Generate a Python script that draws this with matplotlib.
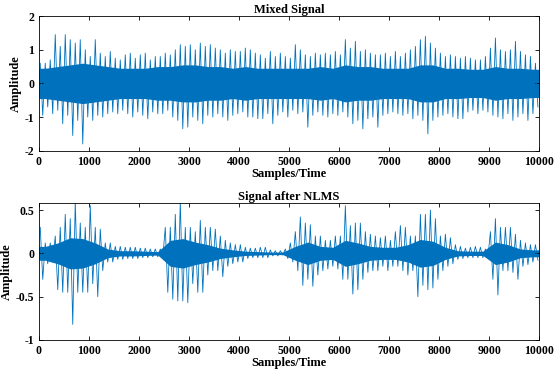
import numpy as np
import matplotlib.pyplot as plt

# peak values read per block of 100 samples (0..10000)
mixed_hi = [0.6, 0.6, 0.7, 1.45, 1.1, 1.45, 1.3, 1.2, 1.3, 1.0,
            0.8, 1.3, 0.9, 0.8, 0.95, 0.75, 0.7, 0.85, 0.9, 0.75,
            0.85, 0.9, 0.7, 0.8, 0.8, 0.9, 0.85, 1.0, 1.15, 1.1,
            1.15, 1.0, 1.2, 1.1, 1.15, 1.05, 1.0, 0.9, 1.0, 0.95,
            0.95, 1.05, 1.0, 0.9, 0.85, 0.75, 0.95, 0.8, 0.9, 0.8,
            0.75, 1.15, 1.0, 0.85, 0.8, 0.9, 0.85, 0.9, 0.85, 0.95,
            0.85, 1.3, 1.05, 1.25, 0.95, 1.0, 0.9, 0.85, 0.85, 0.9,
            0.8, 0.95, 0.8, 0.9, 1.0, 1.1, 1.3, 1.4, 1.2, 1.05,
            0.9, 0.8, 0.85, 0.8, 0.75, 0.8, 0.75, 0.7, 0.7, 0.8,
            1.05, 1.35, 1.0, 0.95, 1.0, 1.25, 0.95, 0.85, 0.8, 0.6]
mixed_lo = [-0.95, -0.7, -0.9, -0.8, -1.2, -0.95, -1.55, -1.1, -1.8, -1.0,
            -1.1, -0.95, -1.0, -0.9, -0.85, -0.9, -0.8, -0.9, -1.0, -0.85,
            -0.95, -1.05, -0.85, -0.9, -0.9, -0.8, -1.0, -1.1, -1.35, -1.3,
            -1.0, -1.1, -1.2, -0.95, -1.0, -0.9, -1.0, -1.1, -0.95, -0.9,
            -0.85, -1.0, -1.0, -1.05, -1.05, -0.9, -1.2, -0.95, -0.85, -1.0,
            -0.8, -0.9, -0.85, -1.3, -0.95, -0.85, -0.95, -1.0, -0.9, -0.95,
            -0.85, -1.0, -1.2, -1.1, -1.35, -1.05, -1.0, -1.3, -0.95, -0.9,
            -0.85, -0.9, -0.95, -0.9, -1.05, -0.95, -1.1, -1.5, -1.1, -1.0,
            -0.95, -0.9, -1.0, -1.05, -1.05, -0.85, -0.8, -0.9, -0.8, -0.85,
            -0.95, -1.0, -1.05, -0.9, -1.1, -1.0, -0.9, -1.1, -0.9, -0.7]
# dense core half-width per block of 250 samples
mixed_core = [0.45, 0.5, 0.55, 0.6, 0.55, 0.5, 0.45, 0.45, 0.45, 0.5,
              0.5, 0.55, 0.55, 0.5, 0.5, 0.45, 0.5, 0.45, 0.45, 0.45,
              0.45, 0.45, 0.5, 0.45, 0.55, 0.5, 0.5, 0.45, 0.45, 0.45,
              0.55, 0.55, 0.45, 0.45, 0.42, 0.42, 0.5, 0.45, 0.45, 0.42]

nlms_hi = [0.3, 0.12, 0.12, 0.2, 0.3, 0.45, 0.4, 0.6, 0.35, 0.3,
           0.55, 0.3, 0.28, 0.12, 0.12, 0.08, 0.08, 0.07, 0.07, 0.07,
           0.06, 0.06, 0.05, 0.05, 0.05, 0.3, 0.3, 0.45, 0.6, 0.3,
           0.3, 0.25, 0.38, 0.3, 0.3, 0.28, 0.2, 0.15, 0.12, 0.1,
           0.1, 0.07, 0.06, 0.06, 0.07, 0.07, 0.04, 0.03, 0.03, 0.05,
           0.12, 0.25, 0.42, 0.35, 0.33, 0.2, 0.2, 0.15, 0.15, 0.2,
           0.2, 0.55, 0.32, 0.35, 0.35, 0.25, 0.22, 0.2, 0.18, 0.2,
           0.15, 0.25, 0.32, 0.3, 0.2, 0.2, 0.45, 0.45, 0.5, 0.4,
           0.2, 0.22, 0.18, 0.1, 0.08, 0.06, 0.07, 0.08, 0.07, 0.05,
           0.25, 0.4, 0.3, 0.3, 0.3, 0.22, 0.15, 0.12, 0.1, 0.1]
nlms_lo = [-0.3, -0.12, -0.1, -0.42, -0.45, -0.45, -0.82, -0.45, -0.45, -0.45,
           -0.35, -0.5, -0.2, -0.1, -0.1, -0.07, -0.07, -0.06, -0.06, -0.06,
           -0.05, -0.05, -0.04, -0.04, -0.05, -0.45, -0.53, -0.55, -0.55, -0.57,
           -0.35, -0.45, -0.45, -0.25, -0.2, -0.2, -0.27, -0.15, -0.12, -0.1,
           -0.1, -0.06, -0.05, -0.05, -0.05, -0.05, -0.03, -0.03, -0.02, -0.06,
           -0.1, -0.2, -0.37, -0.3, -0.38, -0.25, -0.2, -0.18, -0.15, -0.18,
           -0.3, -0.3, -0.47, -0.42, -0.3, -0.22, -0.2, -0.2, -0.15, -0.2,
           -0.15, -0.15, -0.2, -0.25, -0.2, -0.5, -0.37, -0.42, -0.4, -0.3,
           -0.2, -0.15, -0.12, -0.07, -0.06, -0.05, -0.05, -0.05, -0.05, -0.05,
           -0.3, -0.48, -0.2, -0.2, -0.22, -0.3, -0.15, -0.13, -0.1, -0.08]
nlms_core = [0.08, 0.12, 0.18, 0.17, 0.12, 0.05, 0.03, 0.03, 0.025, 0.02,
             0.15, 0.17, 0.13, 0.1, 0.06, 0.04, 0.025, 0.02, 0.015, 0.015,
             0.08, 0.13, 0.08, 0.07, 0.15, 0.12, 0.08, 0.07, 0.07, 0.1,
             0.16, 0.14, 0.07, 0.03, 0.025, 0.025, 0.13, 0.1, 0.05, 0.04]

x_ticks = [0, 1000, 2000, 3000, 4000, 5000, 6000, 7000, 8000, 9000, 10000]

blue = '#0072BD'
plt.rcParams['font.family'] = 'Liberation Serif'
plt.rcParams['font.weight'] = 'bold'


def draw(ax, hi, lo, core, ylim, yticks, title):
    n = len(hi)
    step = 10000 / n
    xs, ys = [], []
    for i in range(n):
        xs += [i * step + step * 0.25, i * step + step * 0.75]
        ys += [hi[i], lo[i]]
    # core band drawn through block centres
    cstep = 10000 / len(core)
    cx = np.concatenate([[0], (np.arange(len(core)) + 0.5) * cstep, [10000]])
    cv = np.array([core[0]] + core + [core[-1]])
    ax.fill_between(cx, -cv, cv, color=blue, linewidth=0)
    ax.plot(xs, ys, color=blue, linewidth=0.6)
    ax.set_xlim(0, 10000)
    ax.set_ylim(*ylim)
    ax.set_xticks(x_ticks)
    ax.set_yticks(yticks)
    ax.set_yticklabels([f'{t:g}' for t in yticks])
    ax.tick_params(direction='in', top=True, right=True, labelsize=8.5,
                   length=3, width=0.6, pad=3.5)
    for s in ax.spines.values():
        s.set_linewidth(0.6)
    ax.set_title(title, fontsize=9, fontweight='bold', pad=2)
    ax.set_xlabel('Samples/Time', fontsize=9, fontweight='bold', labelpad=0)
    ax.set_ylabel('Amplitude', fontsize=9, fontweight='bold', labelpad=2)


fig = plt.figure(figsize=(5.57, 3.74), dpi=100)
ax1 = fig.add_axes([0.070, 0.597, 0.898, 0.360])
ax2 = fig.add_axes([0.070, 0.091, 0.898, 0.366])
draw(ax1, mixed_hi, mixed_lo, mixed_core, (-2, 2), [-2, -1, 0, 1, 2], 'Mixed Signal')
draw(ax2, nlms_hi, nlms_lo, nlms_core, (-1, 0.58), [-1, -0.5, 0, 0.5], 'Signal after NLMS')
fig.savefig('out.png', dpi=100)
